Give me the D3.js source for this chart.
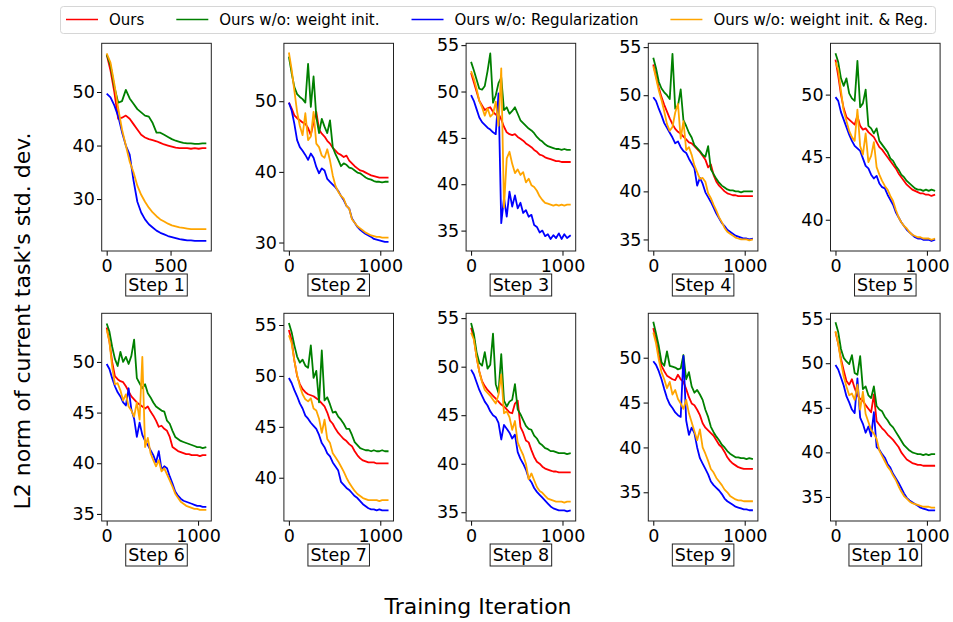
<!DOCTYPE html>
<html>
<head>
<meta charset="utf-8">
<script src="https://cdn.jsdelivr.net/npm/d3@7"></script>
<style>
  body { margin: 0; background: #fff; }
  svg text { font-family: "DejaVu Sans", sans-serif; fill: #000; }
</style>
</head>
<body>
<div id="chart"></div>
<script>
// ---- data ----
const steps = ["Step 1", "Step 2", "Step 3", "Step 4", "Step 5", "Step 6", "Step 7", "Step 8", "Step 9", "Step 10"]
const seriesNames = ["Ours", "Ours w/o: weight init.", "Ours w/o: Regularization", "Ours w/o: weight init. & Reg."]

// training iterations (step 1 ran shorter)
const iters1 = [0,30,60,90,120,150,180,210,240,270,300,330,360,390,420,450,480,510,540,570,600,630,660,690,720,750,780]
const iters = [0,30,60,90,120,150,180,210,240,270,300,330,360,390,420,450,480,510,540,570,600,630,660,690,720,750,780,810,840,870,900,930,960,990,1020,1050,1090]

const ours = [
  [57,54,50,45,45.2,45.6,45,44,43,42,41.5,41.2,41,40.8,40.5,40.2,40,39.8,39.6,39.5,39.5,39.5,39.4,39.5,39.4,39.5,39.5],
  [49.8,49,48,47.6,47.3,47,46.8,46.2,45.2,47,48.5,46,45.4,45,44.4,44,43.4,43,42.6,42.4,42.1,42.3,41.6,41.2,40.8,40.5,40.2,40.1,39.9,39.7,39.5,39.4,39.3,39.2,39.2,39.2,39.2],
  [52,51,50,49,48.5,48,48.2,48.3,47.8,47.5,47.6,47,46.2,45.6,45.4,45.3,45.4,45.1,44.9,44.7,44.4,44.2,44,43.7,43.5,43.2,43.1,42.9,42.8,42.7,42.6,42.5,42.5,42.4,42.4,42.4,42.4],
  [53.2,52,50.8,49.8,49,48.3,47.6,47,46.5,46.2,46,45.7,45.4,45.1,45,44.7,44.4,44.1,43.7,43.3,42.5,42.8,41.7,41,40.6,40.3,40,39.8,39.7,39.6,39.6,39.5,39.5,39.5,39.5,39.5,39.5],
  [52.8,51.5,50,48.9,48.2,48,47.8,47.6,48.3,47.5,47.2,47.3,47,46.8,46.6,46.2,45.8,45.6,45.3,45,44.7,44.4,44.1,43.7,43.4,43.1,42.8,42.6,42.4,42.3,42.2,42.1,42.1,42,42,41.9,42],
  [53.4,52,50,48.6,48.3,48.1,48,47.6,47.1,46.6,46.3,46,45.8,45.6,45.4,45.6,45.1,44.7,44.2,43.6,43.7,43.4,43.2,42.6,41.6,41.4,41.2,41.1,41,40.9,40.9,40.8,40.8,40.8,40.7,40.8,40.8],
  [54.5,53.5,51.5,50,49.2,48.7,48.4,48.2,48.1,48,47.8,47.6,47.3,47,46.4,45.6,45.3,44.8,44.4,44.1,43.8,43.6,43.3,43.1,42.6,42.2,41.9,41.7,41.6,41.5,41.5,41.5,41.4,41.4,41.4,41.4,41.4],
  [54,53,51,49.5,48.5,48,47.6,47.3,47,46.7,46.4,46.1,45.9,45.6,45.3,45.2,46.2,46.5,43.8,43.2,42.4,42.2,41.4,40.7,40.2,40,39.7,39.5,39.4,39.3,39.2,39.2,39.1,39.1,39.1,39.1,39.1],
  [53.3,52,50.3,49.1,48.5,48,47.8,47.6,47.5,48.1,47.6,47.3,46.5,45.6,44.9,44.7,44.2,43.6,42.7,42.2,41.9,41.6,41.3,40.8,40.3,40,39.5,38.9,38.5,38.2,38,37.8,37.7,37.6,37.6,37.6,37.6],
  [53.5,52.2,50.5,49.2,48,47.6,48.2,47.2,46.4,46,45.8,45.3,44.9,44.5,46.5,43.5,43.1,42.7,42.4,42,41.7,41.4,41,40.6,40,39.6,39.2,39,38.8,38.7,38.6,38.6,38.5,38.5,38.5,38.5,38.5]
]

const noInit = [
  [57,55,51,48,48.3,50.4,48.8,47.8,46.8,46.2,45.6,45.4,44.2,42.4,42.4,42,41.6,41.2,40.9,40.7,40.5,40.4,40.4,40.3,40.3,40.4,40.4],
  [56.3,54,52,51,50.6,50.3,49.8,55.3,49.2,53.5,47.8,45.5,47.5,46.4,45.5,47.3,43.5,42.5,41.7,40.8,41.2,41,40.6,40.5,40.2,39.9,39.8,39.5,39.2,39,38.9,38.7,38.6,38.6,38.5,38.6,38.6],
  [53.2,52.3,51.3,50.3,50.2,50.6,52.2,54.1,48.8,49.6,50.9,51.5,48,48.3,47.6,47.9,48.3,47.6,46.9,46.6,46.3,46,45.8,45.5,45.1,44.8,44.6,44.3,44.1,44,43.9,43.8,43.8,43.7,43.8,43.7,43.7],
  [53.9,52.8,51.4,50.7,50.3,50,49.6,54.3,48.6,48.9,50.6,47.4,46.8,46.1,45.6,44.8,44.5,44.2,43.8,43.6,44.7,42.3,41.8,41.3,40.9,40.6,40.4,40.2,40.1,40.1,40,40,39.9,40,40,40,40],
  [53.3,52.6,51.3,50.7,51.3,50.1,49.7,49.5,52.7,49,49.3,50.4,47.5,47.3,46.9,47.3,46.3,46,45.7,45.4,44.9,44.7,44.3,44,43.6,43.4,43.1,42.9,42.7,42.5,42.4,42.4,42.3,42.4,42.3,42.4,42.3],
  [53.8,53,51.5,50.3,49.6,51,50,50.5,49.8,50.6,52.2,48.4,47.9,47.4,47.8,46.9,46.5,46,45.6,45.4,45.2,45.1,44.2,43.9,43.2,42.6,42.4,42.2,42.1,42,41.9,41.8,41.7,41.6,41.6,41.5,41.6],
  [55.2,54.3,53,51.9,51.3,51.6,51,50.8,53,49.8,50.5,47.4,52.5,47.6,47.9,47.2,46.4,46.5,46,45.7,45.3,44.8,44.8,44.2,43.5,43.2,42.9,42.8,42.7,42.7,42.6,42.7,42.6,42.6,42.7,42.6,42.6],
  [54.5,53.4,51.5,50.4,50.1,51.5,49.8,50.2,53.4,48.2,47.3,51.3,46.5,45.9,46.4,46.6,48.2,45.6,45.1,44.5,43.9,43.6,43.5,42.9,42.6,42.1,41.9,41.6,41.5,41.3,41.3,41.2,41.1,41.1,41.1,41,41.1],
  [54,52.7,51.3,49.5,49.1,50.7,49.1,49,48.9,48.7,48.8,50.3,47.6,48.4,46.8,46.1,46.4,45.9,45.3,44.2,43.4,42.3,41.7,41.2,40.8,40.3,40,39.6,39.3,39.1,38.9,38.9,38.8,38.8,38.7,38.8,38.7],
  [54.6,53.5,51.6,50.6,50.2,49.9,50.9,48.9,48.7,50.8,47.1,47.4,46.4,46.1,47.4,45.2,44.8,44.6,44,43.6,43.1,42.8,42.3,41.8,41.3,40.8,40.5,40.2,40,39.9,39.8,39.8,39.7,39.8,39.7,39.8,39.8]
]

const noReg = [
  [49.7,49,47.5,45.5,42.5,40,38.3,33.5,29.5,27.5,26.2,25.3,24.7,24.1,23.7,23.4,23.1,22.9,22.7,22.5,22.4,22.3,22.3,22.2,22.2,22.2,22.2],
  [49.8,48.7,46.8,44.5,43.5,43,42.4,41.7,42.6,42,40.7,39.8,40.5,40.2,39,38.6,38.2,37.8,37.3,36.6,36,35.2,34.8,33.4,32.8,32.2,31.8,31.5,31.2,31,30.8,30.5,30.4,30.3,30.2,30.1,30.1],
  [49.6,49,48.1,47.2,46.7,46.4,46.1,45.9,45.6,45.4,49.8,35.8,38.5,36.5,39.2,37.6,38.8,37.4,38,36.9,37.2,36.5,36.7,35.6,35.4,34.8,35,34.4,34.6,34.1,34.5,34.2,34.7,34.1,34.6,34.2,34.5],
  [49.8,49.4,48.6,47.9,47.1,46.6,46.1,45.6,45,45.2,44.6,44.2,44,43.4,42.9,42.4,40.6,41.4,40.8,39.9,39.4,38.9,38.3,37.7,37.2,36.7,36.4,36,35.8,35.6,35.4,35.3,35.2,35.1,35.1,35,35.1],
  [49.8,49.5,48.6,48,47.4,46.8,46.3,45.9,45.7,45.5,44.9,44.3,44.1,43.6,43.3,43.5,42.9,42.6,42.5,42,41.6,41.2,40.6,40.2,39.8,39.5,39.2,39,38.8,38.6,38.5,38.5,38.4,38.4,38.4,38.3,38.4],
  [49.8,49.3,48.4,47.6,47,46.6,46,45.7,47.4,45.3,44.4,42.6,44,42.8,42.2,41.8,41.3,40.8,40.1,41.2,39.4,39.7,39.5,38.7,38,37.2,36.8,36.5,36.3,36.2,36.1,36,35.9,35.8,35.8,35.7,35.7],
  [49.8,49.3,48.6,48,47.3,46.8,46.1,45.8,45.4,45.1,44.8,44.2,43.4,43,42.4,42.1,41.5,41.1,40.7,39.6,39.3,39,38.8,38.5,38.2,38,37.7,37.4,37.2,37,36.9,36.9,36.8,36.9,36.8,36.8,36.8],
  [49.7,49.2,48.4,47.6,47,46.4,46,45.4,45,44.8,44.2,42.5,44,43.6,43.2,42.6,43,41.2,40.5,40,39.4,38.5,38.1,37.5,37.1,36.8,36.5,36.2,35.9,35.6,35.4,35.3,35.2,35.2,35.2,35.1,35.2],
  [49.6,49.2,48.5,47.6,46.5,45.5,44.8,44.4,43.9,43.6,43.4,50.2,43,41.4,42.2,41.6,40,38.8,38.2,37.6,37,36.2,35.8,35.5,35.2,34.8,34.3,34,33.8,33.6,33.4,33.3,33.2,33.1,33.1,33,33],
  [49.8,49.3,48.4,47.5,46.3,45.6,44.8,44.4,48.3,43.9,43.2,42.2,42.9,41.8,44.5,40.6,40.3,39.8,39.4,38.7,38.3,37.6,37.1,36.6,36,35.4,34.9,34.6,34.4,34.2,34,33.8,33.7,33.6,33.5,33.5,33.5]
]

const noInitReg = [
  [57.2,55.5,51.5,47,43,40,37,35,32.5,30.8,29.5,28.4,27.5,26.8,26.2,25.8,25.4,25.1,24.9,24.7,24.6,24.5,24.4,24.4,24.4,24.4,24.4],
  [56.9,54.5,51.5,48.5,46.5,45.2,48.3,44.5,45,48.5,44,43.5,42.3,42,43.2,41.6,39.5,38,37.2,36.6,36.2,35.2,34.8,33.3,32.8,32.3,32,31.7,31.4,31.2,31,30.9,30.8,30.8,30.7,30.7,30.7],
  [52.2,51.4,50.3,49,48.3,47.4,48.2,47.3,47.6,48.9,46.3,52.5,37.5,42.8,43.5,42.2,41.2,41.6,41,41.3,40.2,40.6,39.9,39.7,39.3,38.7,38.3,38,37.9,37.8,37.7,37.8,37.7,37.8,37.7,37.8,37.8],
  [53,51.8,50.5,49.5,48.3,47,46.3,46.7,48.2,49.1,45.5,47.3,44.3,44.6,43.8,42.7,42,41.3,41.4,41,39.8,39.3,38.6,38,37.3,36.8,36.2,35.8,35.6,35.4,35.2,35.1,35,35,35,34.9,35],
  [52.6,52,50.3,48.7,47.9,47.1,46.6,46.3,48.8,45.9,45.2,46.9,44.6,45.1,46.2,44.2,43.6,43.1,42.7,42.4,41.9,41.5,40.8,40.2,39.8,39.5,39.3,39,38.8,38.7,38.6,38.6,38.5,38.5,38.5,38.4,38.5],
  [53.2,52,49.5,47.8,47.9,47.2,46.2,46.8,45.6,45.2,44.6,46,44.3,50.5,41.6,42.5,41,40.3,39.7,40.3,39.2,39.5,38.9,38.3,37.7,37,36.6,36.2,36,35.8,35.7,35.6,35.5,35.5,35.4,35.4,35.4],
  [54,53.2,51.5,50.1,49,48.2,47.7,47.5,47.8,46.8,46.6,45.8,44.4,45.7,43.8,43.4,42.4,42,41.6,41.1,40.6,40,39.5,39.1,38.7,38.4,38.2,38,37.9,37.8,37.8,37.8,37.8,37.7,37.8,37.8,37.8],
  [53.5,52.8,51,49.5,48.4,47.6,47.3,47,46.6,46.2,47.1,49.2,45.2,45.4,44.8,43.5,44.4,42.2,41.5,40.9,40,38.4,39,38.3,37.6,37.2,37,36.7,36.4,36.3,36.2,36.1,36.1,36.1,36,36.1,36.1],
  [52.8,51.6,49.8,48.4,47.6,46.6,47.3,45.9,46.4,45.4,44.9,44.3,45.3,43.8,42.8,41.8,40.8,42,40,39.3,38.5,37.6,37.2,36.6,36.2,35.8,35.3,35,34.6,34.4,34.2,34.1,34.1,34,34,34,34],
  [53.6,52.2,50.2,48.5,47.4,46.4,46.6,45.9,47.6,44.8,46.8,44.3,43.4,42.5,42.1,41.5,40.2,39.6,39,38.4,38,37.4,36.9,36.2,35.6,35.1,34.8,34.5,34.3,34.2,34.1,34,33.9,33.9,33.9,33.8,33.8]
]

// axis ranges and ticks per panel
const yRanges = [[20.3, 59.1], [28.8, 58.2], [32.8, 55.2], [33.8, 55.4], [37.5, 54.1],
                 [34.3, 54.8], [35.75, 56.15], [34.1, 55.5], [31.8, 54.95], [32.3, 55.6]]
const yTicks = [[30, 40, 50], [30, 40, 50], [35, 40, 45, 50, 55], [35, 40, 45, 50, 55], [40, 45, 50],
                [35, 40, 45, 50], [40, 45, 50, 55], [35, 40, 45, 50, 55], [35, 40, 45, 50], [35, 40, 45, 50, 55]]
const xTicks = [[0, 500], [0, 1000], [0, 1000], [0, 1000], [0, 1000],
                [0, 1000], [0, 1000], [0, 1000], [0, 1000], [0, 1000]]

;(function () {
  const W = 953, H = 622
  const colors = ["#ff0000", "#008000", "#0000ff", "#ffa500"]
  const series = [ours, noInit, noReg, noInitReg]

  // panel grid (matplotlib subplots layout)
  const pw = 109.6, ph = 207.7
  const lefts = [101.7, 283.9, 466.1, 648.3, 830.5]
  const tops = [43.3, 313.3]
  const tickFont = "17.5px"

  const svg = d3.select("#chart").append("svg")
      .attr("width", W)
      .attr("height", H)

  svg.append("rect").attr("width", W).attr("height", H).attr("fill", "#fff")

  steps.forEach((label, i) => {
    const xs = i === 0 ? iters1 : iters
    const col = i % 5, row = Math.floor(i / 5)
    const g = svg.append("g")
        .attr("transform", `translate(${lefts[col]},${tops[row]})`)

    // 5% margins like matplotlib autoscale
    const x0 = xs[0], x1 = xs[xs.length - 1]
    const pad = (x1 - x0) * 0.05
    const x = d3.scaleLinear().domain([x0 - pad, x1 + pad]).range([0, pw])
    const y = d3.scaleLinear().domain(yRanges[i]).range([ph, 0])

    g.append("clipPath").attr("id", "clip" + i)
      .append("rect").attr("width", pw).attr("height", ph)

    const line = d3.line()
        .x((d, j) => x(xs[j]))
        .y(d => y(d))

    const lines = g.append("g").attr("clip-path", `url(#clip${i})`)
    series.forEach((s, k) => {
      lines.append("path")
        .datum(s[i])
        .attr("d", line)
        .attr("fill", "none")
        .attr("stroke", colors[k])
        .attr("stroke-width", 1.8)
        .attr("stroke-linejoin", "round")
    })

    // axes
    const yAxis = g.append("g")
        .call(d3.axisLeft(y).tickValues(yTicks[i]).tickSize(4.7).tickPadding(2.2).tickFormat(d3.format("d")))
    const xAxis = g.append("g")
        .attr("transform", `translate(0,${ph})`)
        .call(d3.axisBottom(x).tickValues(xTicks[i]).tickSize(4.7).tickPadding(3.5).tickFormat(d3.format("d")))
    ;[xAxis, yAxis].forEach(a => {
      a.select(".domain").remove()
      a.selectAll("line").attr("stroke", "#000").attr("stroke-width", 1)
      a.selectAll("text")
        .attr("font-family", "DejaVu Sans, sans-serif")
        .attr("font-size", tickFont)
        .attr("fill", "#000")
    })

    g.append("rect")
      .attr("width", pw)
      .attr("height", ph)
      .attr("fill", "none")
      .attr("stroke", "#222")
      .attr("stroke-width", 1)

    // boxed step label under each panel
    const lab = g.append("g").attr("transform", `translate(${pw / 2},${ph + 34})`)
    const t = lab.append("text")
      .attr("text-anchor", "middle")
      .attr("dy", "0.36em")
      .attr("font-size", tickFont)
      .text(label)
    const bb = t.node().getBBox()
    lab.insert("rect", "text")
      .attr("x", bb.x - 2.5)
      .attr("y", -11)
      .attr("width", bb.width + 5)
      .attr("height", 22)
      .attr("fill", "#fff")
      .attr("stroke", "#222")
      .attr("stroke-width", 1)
  })

  // legend across the top
  const legend = svg.append("g")
  legend.append("rect")
    .attr("x", 60.5).attr("y", 6.5)
    .attr("width", 875).attr("height", 27)
    .attr("rx", 3)
    .attr("fill", "#fff")
    .attr("stroke", "#d6d6d6")
  let cx = 66
  seriesNames.forEach((name, k) => {
    legend.append("line")
      .attr("x1", cx).attr("x2", cx + 32)
      .attr("y1", 19.5).attr("y2", 19.5)
      .attr("stroke", colors[k])
      .attr("stroke-width", 1.5)
    const tx = legend.append("text")
      .attr("x", cx + 43)
      .attr("y", 19.5)
      .attr("dy", "0.35em")
      .attr("font-size", "15px")
      .text(name)
    cx = cx + 43 + tx.node().getComputedTextLength() + 32
  })

  // axis titles
  svg.append("text")
    .attr("transform", "translate(22,321) rotate(-90)")
    .attr("text-anchor", "middle")
    .attr("dy", "0.35em")
    .attr("font-size", "22px")
    .text("L2 norm of current task's std. dev.")

  svg.append("text")
    .attr("x", 478)
    .attr("y", 614)
    .attr("text-anchor", "middle")
    .attr("font-size", "22px")
    .text("Training Iteration")
})()
</script>
</body>
</html>
